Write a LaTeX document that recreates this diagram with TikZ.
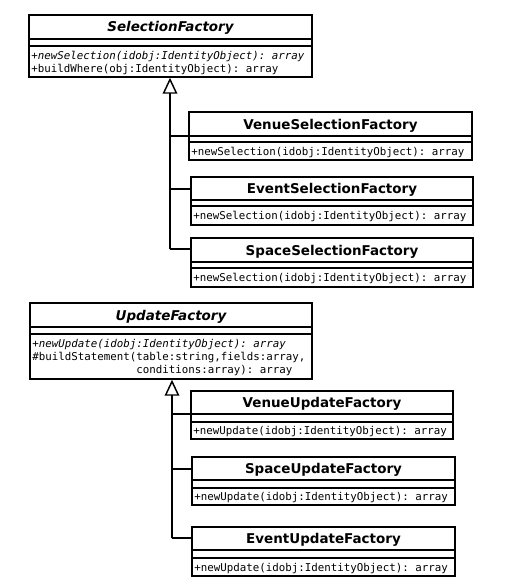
\documentclass[tikz,border=0pt]{standalone}
\usepackage{fontspec}
\setmainfont{DejaVu Sans}
\setmonofont{DejaVu Sans Mono}
\usetikzlibrary{fit,arrows.meta}
\tikzset{
  cls/.style={draw=black, line width=1.1pt, inner sep=0pt},
  sep/.style={draw=black, line width=1.1pt},
  ttl/.style={inner sep=0pt, anchor=base, font=\fontsize{10.1}{12}\selectfont\bfseries},
  mth/.style={inner sep=0pt, anchor=base west, font=\fontsize{8.1}{10}\selectfont\ttfamily},
  gen/.style={draw=black, line width=1.1pt, -{Triangle[open, length=12pt, width=11pt, line width=1.1pt]}},
  conn/.style={draw=black, line width=1.1pt}
}
\begin{document}
\begin{tikzpicture}[x=0.75pt,y=-0.75pt]
\useasboundingbox[fill=white] (0,0) rectangle (518,585);

% ---------- SelectionFactory ----------
\node[cls, fit={(29,15)(312,77)}] (sf) {};
\draw[sep] (29,39) -- (312,39) (29,46) -- (312,46);
\node[ttl] (sft) at (170.5,32) {\itshape SelectionFactory};
\node[mth] (sfm1) at (31,60) {\itshape +newSelection(idobj:IdentityObject): array};
\node[mth] (sfm2) at (31,73) {+buildWhere(obj:IdentityObject): array};

% VenueSelectionFactory
\node[cls, fit={(189,112)(472,160)}] (vs) {};
\draw[sep] (189,136) -- (472,136) (189,142) -- (472,142);
\node[ttl] (vst) at (330.5,129) {VenueSelectionFactory};
\node[mth] (vsm) at (191,155) {+newSelection(idobj:IdentityObject): array};

% EventSelectionFactory
\node[cls, fit={(191,177)(473,225)}] (es) {};
\draw[sep] (191,200) -- (473,200) (191,206) -- (473,206);
\node[ttl] (est) at (332,193.5) {EventSelectionFactory};
\node[mth] (esm) at (193,219) {+newSelection(idobj:IdentityObject): array};

% SpaceSelectionFactory
\node[cls, fit={(191,238)(473,287)}] (ss) {};
\draw[sep] (191,262) -- (473,262) (191,268) -- (473,268);
\node[ttl] (sst) at (332,255) {SpaceSelectionFactory};
\node[mth] (ssm) at (193,281) {+newSelection(idobj:IdentityObject): array};

% generalisation (selection)
\coordinate (jsv) at (170,136);
\coordinate (jse) at (170,189);
\coordinate (jss) at (170,249);
\draw[gen] (jss) -- (jss |- sf.south);
\draw[conn] (jsv) -- (jsv -| vs.west);
\draw[conn] (jse) -- (jse -| es.west);
\draw[conn] (jss) -- (jss -| ss.west);

% ---------- UpdateFactory ----------
\node[cls, fit={(30,303)(312,379)}] (uf) {};
\draw[sep] (30,327) -- (312,327) (30,334) -- (312,334);
\node[ttl] (uft) at (171,320) {\itshape UpdateFactory};
\node[mth] (ufm1) at (32,347) {\itshape +newUpdate(idobj:IdentityObject): array};
\node[mth] (ufm2) at (32,360) {\#buildStatement(table:string,fields:array,};
\node[mth] (ufm3) at (32,373) {\phantom{\#buildStatement(}conditions:array): array};

% VenueUpdateFactory
\node[cls, fit={(191,391)(453,439)}] (vu) {};
\draw[sep] (191,414) -- (453,414) (191,422) -- (453,422);
\node[ttl] (vut) at (322,407.5) {VenueUpdateFactory};
\node[mth] (vum) at (193,434) {+newUpdate(idobj:IdentityObject): array};

% SpaceUpdateFactory
\node[cls, fit={(192,457)(455,505)}] (su) {};
\draw[sep] (192,480) -- (455,480) (192,488) -- (455,488);
\node[ttl] (sut) at (323.5,473.5) {SpaceUpdateFactory};
\node[mth] (sum) at (194,500) {+newUpdate(idobj:IdentityObject): array};

% EventUpdateFactory
\node[cls, fit={(192,527)(455,576)}] (eu) {};
\draw[sep] (192,550) -- (455,550) (192,558) -- (455,558);
\node[ttl] (eut) at (323.5,543.5) {EventUpdateFactory};
\node[mth] (eum) at (194,571) {+newUpdate(idobj:IdentityObject): array};

% generalisation (update)
\coordinate (juv) at (172,414);
\coordinate (jus) at (172,469);
\coordinate (jue) at (172,538);
\draw[gen] (jue) -- (jue |- uf.south);
\draw[conn] (juv) -- (juv -| vu.west);
\draw[conn] (jus) -- (jus -| su.west);
\draw[conn] (jue) -- (jue -| eu.west);
\end{tikzpicture}
\end{document}
